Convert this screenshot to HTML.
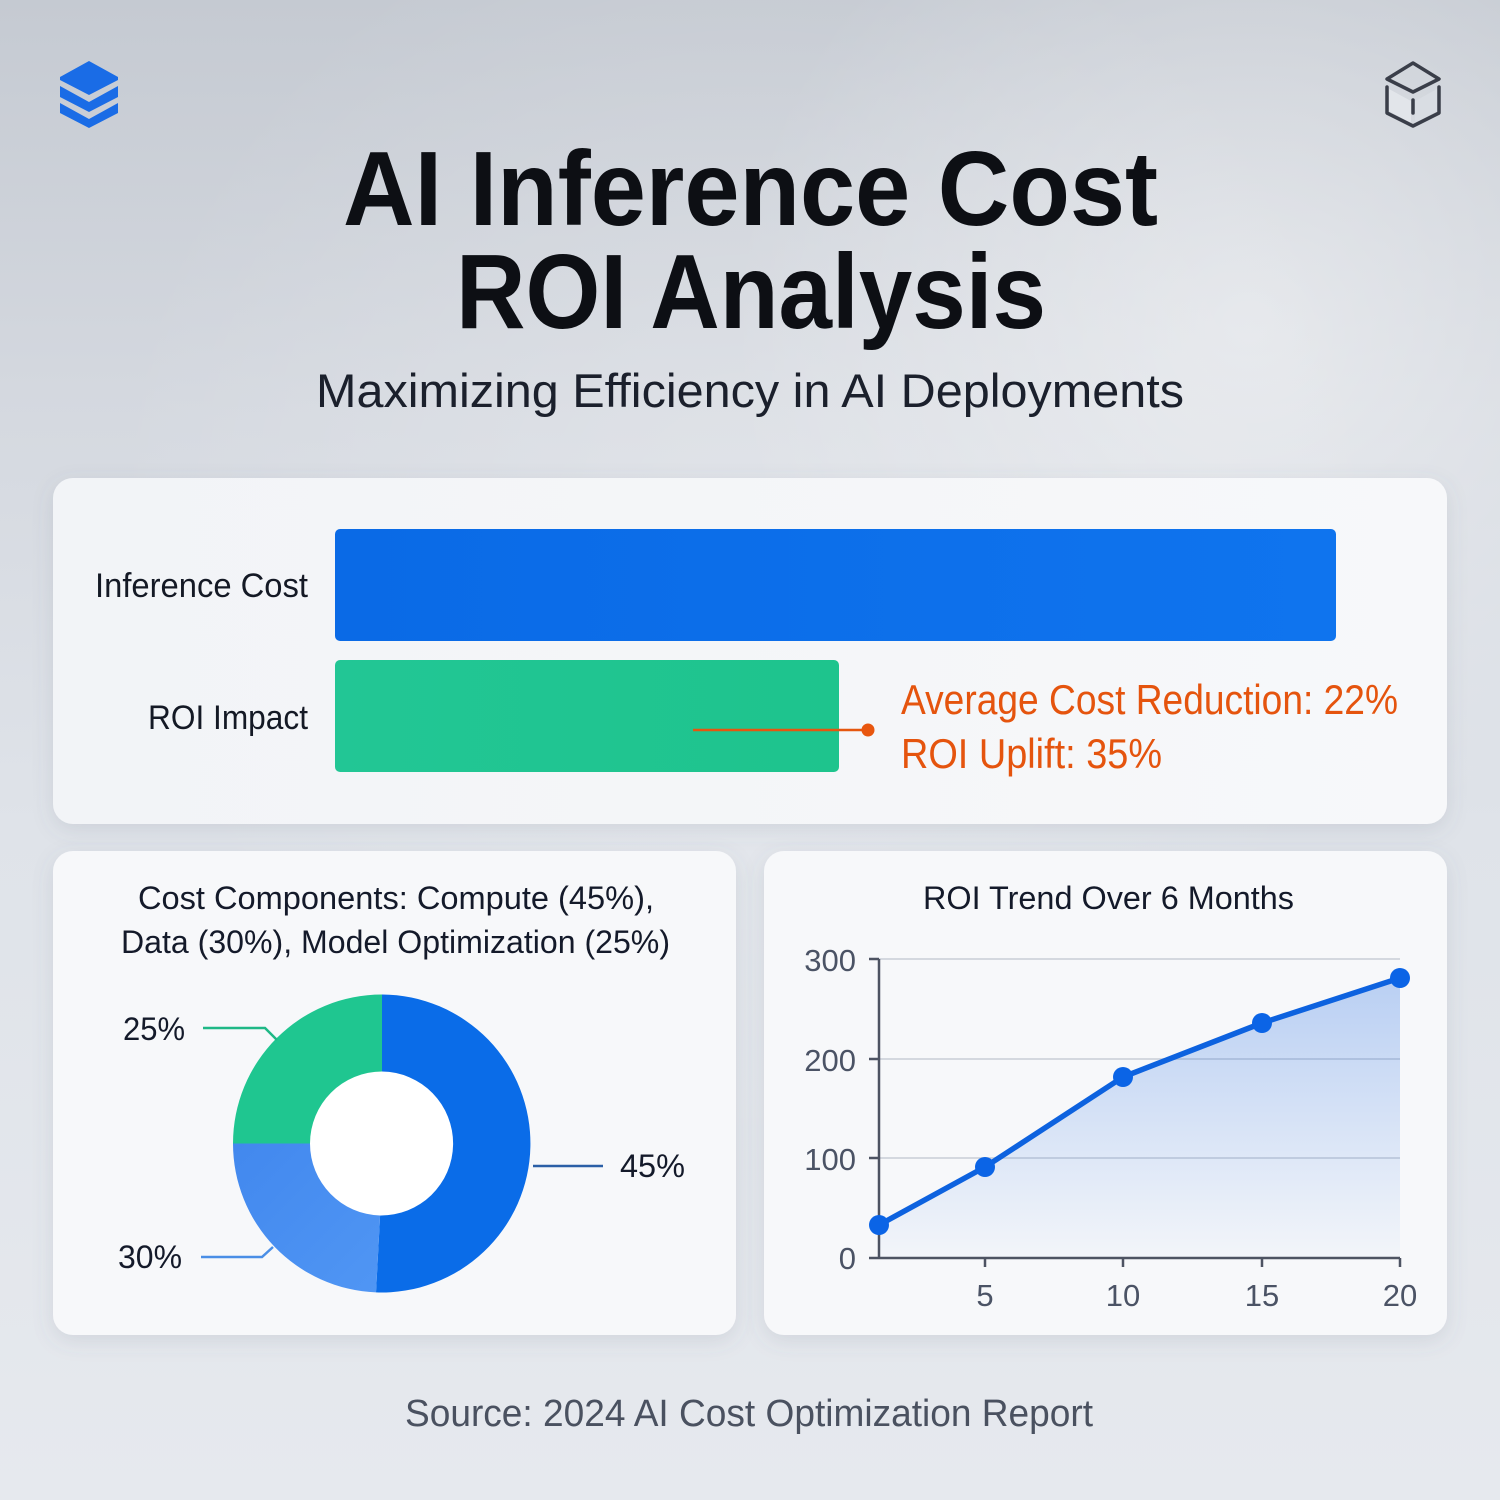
<!DOCTYPE html>
<html><head><meta charset="utf-8"><style>
html,body{margin:0;padding:0;width:1500px;height:1500px;overflow:hidden;background:#dde1e7}
svg{display:block}
text{font-family:"Liberation Sans",Arial,sans-serif}
</style></head><body>
<svg width="1500" height="1500" viewBox="0 0 1500 1500" xmlns="http://www.w3.org/2000/svg">
<defs>
<linearGradient id="bg" x1="0" y1="0" x2="0" y2="1">
<stop offset="0" stop-color="#c5cad2"/>
<stop offset="0.28" stop-color="#d5d9e0"/>
<stop offset="0.55" stop-color="#dfe3e9"/>
<stop offset="1" stop-color="#e6e9ee"/>
</linearGradient>
<radialGradient id="glow" cx="1250" cy="330" r="520" gradientUnits="userSpaceOnUse">
<stop offset="0" stop-color="#ffffff" stop-opacity="0.45"/>
<stop offset="1" stop-color="#ffffff" stop-opacity="0"/>
</radialGradient>
<radialGradient id="glow2" cx="750" cy="520" r="650" gradientUnits="userSpaceOnUse">
<stop offset="0" stop-color="#ffffff" stop-opacity="0.25"/>
<stop offset="1" stop-color="#ffffff" stop-opacity="0"/>
</radialGradient>
<filter id="sh" x="-10%" y="-10%" width="120%" height="130%">
<feDropShadow dx="0" dy="6" stdDeviation="10" flood-color="#5a6478" flood-opacity="0.14"/>
</filter>
<linearGradient id="card" x1="0" y1="0" x2="1" y2="0">
<stop offset="0" stop-color="#f2f4f7"/>
<stop offset="1" stop-color="#f7f8fa"/>
</linearGradient>
<linearGradient id="blueBar" x1="0" y1="0" x2="1" y2="0">
<stop offset="0" stop-color="#0a6ae6"/>
<stop offset="1" stop-color="#0f74ee"/>
</linearGradient>
<linearGradient id="greenBar" x1="0" y1="0" x2="1" y2="0">
<stop offset="0" stop-color="#22c695"/>
<stop offset="1" stop-color="#1ec48d"/>
</linearGradient>
<linearGradient id="area" x1="0" y1="978" x2="0" y2="1258" gradientUnits="userSpaceOnUse">
<stop offset="0" stop-color="#1a66e0" stop-opacity="0.28"/>
<stop offset="1" stop-color="#1a66e0" stop-opacity="0.02"/>
</linearGradient>
<linearGradient id="lb" x1="0" y1="0" x2="1" y2="1">
<stop offset="0" stop-color="#4288ee"/>
<stop offset="1" stop-color="#5096f4"/>
</linearGradient>
</defs>

<rect width="1500" height="1500" fill="url(#bg)"/>
<rect width="1500" height="1500" fill="url(#glow)"/>
<rect width="1500" height="1500" fill="url(#glow2)"/>

<!-- left icon: stack -->
<g fill="#1a6ce6">
<polygon points="89,61 118,77 118,80 89,95 60,80 60,77"/>
<polygon points="60,86 89,102 118,86 118,97 89,112 60,97"/>
<polygon points="60,103 89,119 118,103 118,113 89,128 60,113"/>
</g>

<!-- right icon: cube -->
<g fill="none" stroke="#3a3e49" stroke-width="3.5" stroke-linejoin="round" stroke-linecap="round">
<polygon points="1413,63 1439,79 1413,92 1387,79"/>
<polygon points="1389,89 1411,101 1411,123 1389,111" fill="#e2e5ea" stroke="none"/>
<polygon points="1437,89 1415,101 1415,123 1437,111" fill="#d9dde3" stroke="none"/>
<polyline points="1387,87 1387,113 1413,126 1439,113 1439,87"/>
<line x1="1413" y1="100" x2="1413" y2="113"/>
</g>

<!-- title -->
<text x="343" y="225" font-size="106" font-weight="bold" fill="#0d0f14" textLength="815" lengthAdjust="spacingAndGlyphs">AI Inference Cost</text>
<text x="456" y="328" font-size="106" font-weight="bold" fill="#0d0f14" textLength="590" lengthAdjust="spacingAndGlyphs">ROI Analysis</text>
<text x="316" y="407" font-size="47" fill="#1b202c" textLength="868" lengthAdjust="spacingAndGlyphs">Maximizing Efficiency in AI Deployments</text>

<!-- cards -->
<rect x="53" y="478" width="1394" height="346" rx="20" fill="url(#card)" filter="url(#sh)"/>
<rect x="53" y="851" width="683" height="484" rx="20" fill="#f7f8fa" filter="url(#sh)"/>
<rect x="764" y="851" width="683" height="484" rx="20" fill="#f7f8fa" filter="url(#sh)"/>

<!-- bar chart -->
<text x="95" y="597" font-size="34" fill="#141925" textLength="213" lengthAdjust="spacingAndGlyphs">Inference Cost</text>
<text x="148" y="729" font-size="34" fill="#141925" textLength="160" lengthAdjust="spacingAndGlyphs">ROI Impact</text>
<rect x="335" y="529" width="1001" height="112" rx="5" fill="url(#blueBar)"/>
<rect x="335" y="660" width="504" height="112" rx="5" fill="url(#greenBar)"/>
<line x1="693" y1="730" x2="868" y2="730" stroke="#e5560f" stroke-width="2.5"/>
<circle cx="868" cy="730" r="6.5" fill="#e8560f"/>
<text x="901" y="714" font-size="42" fill="#e5540e" textLength="497" lengthAdjust="spacingAndGlyphs">Average Cost Reduction: 22%</text>
<text x="901" y="768" font-size="42" fill="#e5540e" textLength="261" lengthAdjust="spacingAndGlyphs">ROI Uplift: 35%</text>

<!-- donut card -->
<text x="138" y="909" font-size="32" fill="#141a2a" textLength="516" lengthAdjust="spacingAndGlyphs">Cost Components: Compute (45%),</text>
<text x="121" y="953" font-size="32" fill="#141a2a" textLength="549" lengthAdjust="spacingAndGlyphs">Data (30%), Model Optimization (25%)</text>

<circle cx="382" cy="1143.5" r="73" fill="#ffffff"/>
<path d="M382,994.5 A149,149 0 1,1 376,1292.4 L380.1,1215.5 A72,72 0 1,0 382,1071.5 Z" fill="#0a6ce8"/>
<path d="M376,1292.4 A149,149 0 0,1 233,1143.5 L310,1143.5 A72,72 0 0,0 380.1,1215.5 Z" fill="url(#lb)"/>
<path d="M233,1143.5 A149,149 0 0,1 382,994.5 L382,1071.5 A72,72 0 0,0 310,1143.5 Z" fill="#1fc690"/>

<polyline points="203,1028 265,1028 277,1040" fill="none" stroke="#1fb886" stroke-width="2.5"/>
<polyline points="201,1257 262,1257 273,1247" fill="none" stroke="#4a8ee6" stroke-width="2.5"/>
<line x1="533" y1="1166" x2="603" y2="1166" stroke="#2b5fa6" stroke-width="2.5"/>
<text x="123" y="1040" font-size="32" fill="#141a2a" textLength="62" lengthAdjust="spacingAndGlyphs">25%</text>
<text x="118" y="1268" font-size="32" fill="#141a2a" textLength="64" lengthAdjust="spacingAndGlyphs">30%</text>
<text x="620" y="1177" font-size="32" fill="#141a2a" textLength="65" lengthAdjust="spacingAndGlyphs">45%</text>

<!-- line chart card -->
<text x="923" y="909" font-size="32" fill="#141a2a" textLength="371" lengthAdjust="spacingAndGlyphs">ROI Trend Over 6 Months</text>
<g stroke="#d4d8df" stroke-width="2">
<line x1="879" y1="959" x2="1400" y2="959"/>
<line x1="879" y1="1059" x2="1400" y2="1059"/>
<line x1="879" y1="1158" x2="1400" y2="1158"/>
</g>
<path d="M879,1225 L985,1167 L1123,1077 L1262,1023 L1400,978 L1400,1258 L879,1258 Z" fill="url(#area)"/>
<g stroke="#4d5362" stroke-width="2.5" fill="none">
<line x1="879" y1="959" x2="879" y2="1258"/>
<line x1="869" y1="1258" x2="1400" y2="1258"/>
<line x1="869" y1="959" x2="879" y2="959"/>
<line x1="869" y1="1059" x2="879" y2="1059"/>
<line x1="869" y1="1158" x2="879" y2="1158"/>
<line x1="985" y1="1258" x2="985" y2="1267"/>
<line x1="1123" y1="1258" x2="1123" y2="1267"/>
<line x1="1262" y1="1258" x2="1262" y2="1267"/>
<line x1="1400" y1="1258" x2="1400" y2="1267"/>
</g>
<polyline points="879,1225 985,1167 1123,1077 1262,1023 1400,978" fill="none" stroke="#0d62df" stroke-width="5.5" stroke-linejoin="round"/>
<g fill="#0b64e6">
<circle cx="879" cy="1225" r="10"/>
<circle cx="985" cy="1167" r="10"/>
<circle cx="1123" cy="1077" r="10"/>
<circle cx="1262" cy="1023" r="10"/>
<circle cx="1400" cy="978" r="10"/>
</g>
<g font-size="31" fill="#4b5365" text-anchor="end">
<text x="856" y="971">300</text>
<text x="856" y="1071">200</text>
<text x="856" y="1170">100</text>
<text x="856" y="1269">0</text>
</g>
<g font-size="31" fill="#4b5365" text-anchor="middle">
<text x="985" y="1306">5</text>
<text x="1123" y="1306">10</text>
<text x="1262" y="1306">15</text>
<text x="1400" y="1306">20</text>
</g>

<!-- source -->
<text x="405" y="1426" font-size="38" fill="#4a5160" textLength="688" lengthAdjust="spacingAndGlyphs">Source: 2024 AI Cost Optimization Report</text>
</svg>
</body></html>
